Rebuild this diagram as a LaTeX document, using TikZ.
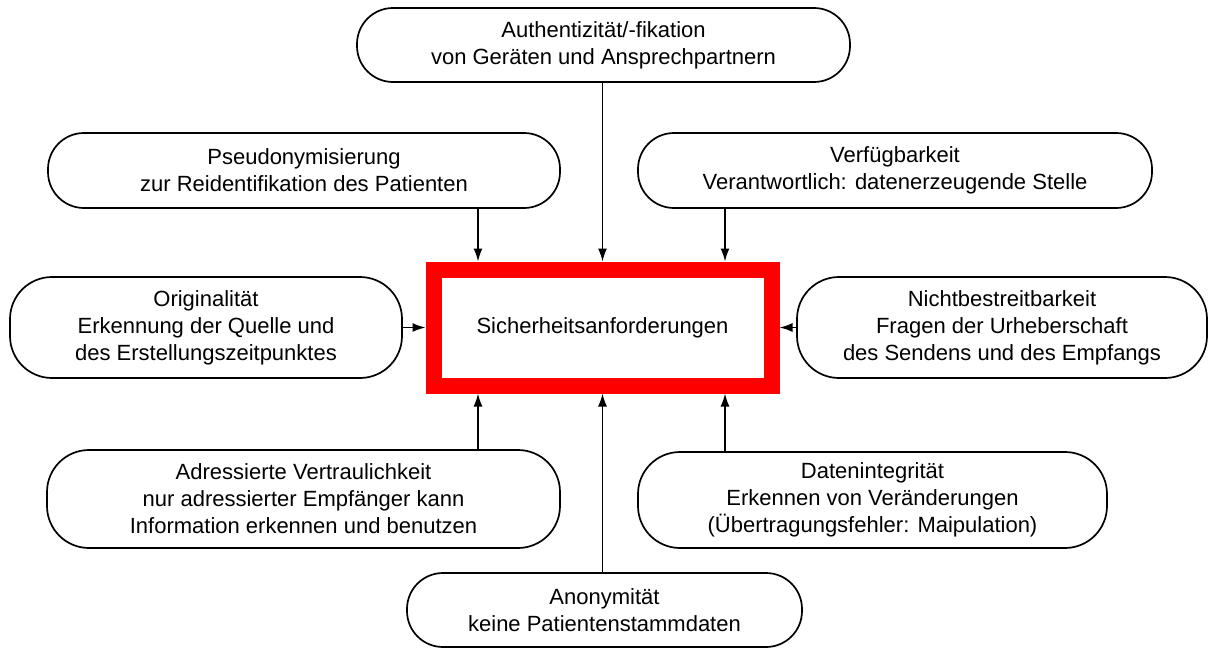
\documentclass[tikz,border=0pt]{standalone}
\usepackage{fontspec}
\setmainfont{Liberation Sans}
\usetikzlibrary{arrows.meta}
\begin{document}
\begin{tikzpicture}[x=0.5pt,y=-0.5pt,
  req/.style={draw=black, line width=0.85pt, rounded corners=18pt, fill=white,
    align=center, inner sep=0pt, font=\fontsize{11}{13.5}\selectfont},
  tallreq/.style={req, rounded corners=21pt},
  core/.style={draw=red, line width=8pt, fill=white, inner sep=0pt,
    font=\fontsize{11}{13.5}\selectfont},
  feed/.style={line width=0.75pt, -{Latex[length=6.5pt,width=4.5pt]}}]
\useasboundingbox (0,0) rectangle (1215,648);

% central requirement
\node[core, minimum width=169pt, minimum height=58pt] (core) at (602.5,327.5) {Sicherheitsanforderungen};

% surrounding requirements
\node[req, minimum width=246.5pt, minimum height=37pt] (auth) at (603.5,45)
  {Authentizität/-fikation\\von Geräten und Ansprechpartnern};
\node[req, minimum width=256pt, minimum height=37.5pt] (pseudo) at (304,170.5)
  {Pseudonymisierung\\zur Reidentifikation des Patienten};
\node[req, minimum width=257pt, minimum height=37.5pt] (verf) at (895,170.5)
  {Verfügbarkeit\\Verantwortlich: datenerzeugende Stelle};
\node[tallreq, minimum width=196pt, minimum height=50.5pt] (orig) at (206,327.5)
  {Originalität\\Erkennung der Quelle und\\des Erstellungszeitpunktes};
\node[tallreq, minimum width=205pt, minimum height=50.5pt] (nicht) at (1002,327.5)
  {Nichtbestreitbarkeit\\Fragen der Urheberschaft\\des Sendens und des Empfangs};
\node[tallreq, minimum width=256.5pt, minimum height=49pt] (adr) at (303.5,499)
  {Adressierte Vertraulichkeit\\nur adressierter Empfänger kann\\Information erkennen und benutzen};
\node[tallreq, minimum width=234.5pt, minimum height=48pt] (daten) at (872.5,500)
  {Datenintegrität\\Erkennen von Veränderungen\\(Übertragungsfehler: Maipulation)};
\node[req, minimum width=197.5pt, minimum height=37pt] (anon) at (604.5,610)
  {Anonymität\\keine Patientenstammdaten};

% columns of the vertical feeds
\coordinate (colL) at (478,0);
\coordinate (colR) at (725,0);

% feeds into the central box
\draw[feed] (auth.south -| core.north) -- (core.north);
\draw[feed] (pseudo.south -| colL) -- (core.north -| colL);
\draw[feed] (verf.south -| colR) -- (core.north -| colR);
\draw[feed] (orig.east) -- (core.west);
\draw[feed] (nicht.west) -- (core.east);
\draw[feed] (adr.north -| colL) -- (core.south -| colL);
\draw[feed] (daten.north -| colR) -- (core.south -| colR);
\draw[feed] (anon.north -| core.south) -- (core.south);
\end{tikzpicture}
\end{document}
